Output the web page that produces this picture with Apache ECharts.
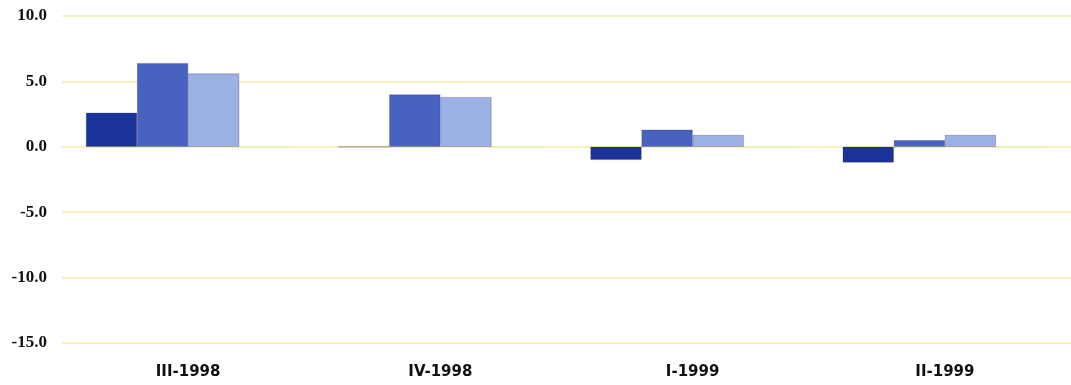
<!DOCTYPE html>
<html><head><meta charset="utf-8">
<script src="https://cdn.jsdelivr.net/npm/echarts@6/dist/echarts.min.js"></script>
<style>html,body{margin:0;padding:0;background:#fff}#c{width:1071px;height:385px}</style>
</head><body><div id="c"></div>
<script>
const categories = ["III-1998", "IV-1998", "I-1999", "II-1999"];
const series1 = [2.6, 0.0, -1.0, -1.2];
const series2 = [6.4, 4.0, 1.3, 0.5];
const series3 = [5.6, 3.8, 0.9, 0.9];
const series4 = [0.0, 0.0, 0.0, 0.0];
const yTicks = [-15, -10, -5, 0, 5, 10];

const colors = ["#19339a", "#4862c2", "#9cb1e4", "#e8ecb0"];
const chart = echarts.init(document.getElementById('c'), null, {renderer: 'canvas'});
const mk = (name, data, i) => ({
  name, type: 'bar', data, barGap: '0%', barCategoryGap: '19%',
  itemStyle: {color: colors[i], borderColor: i < 3 ? 'rgba(60,30,80,0.45)' : colors[i], borderWidth: 0.6},
  animation: false
});
chart.setOption({
  animation: false,
  grid: {left: 62, right: 0, top: 16, bottom: 42, containLabel: false},
  xAxis: {
    type: 'category', data: categories,
    axisLine: {show: false}, axisTick: {show: false},
    position: 'bottom',
    axisLabel: {color: '#111', fontFamily: 'DejaVu Sans', fontWeight: 'bold', fontSize: 15, margin: 22}
  },
  yAxis: {
    type: 'value', min: yTicks[0], max: yTicks[yTicks.length - 1], interval: 5,
    axisLine: {show: false}, axisTick: {show: false},
    splitLine: {lineStyle: {color: '#f0eea8', width: 1.5}},
    axisLabel: {color: '#111', fontFamily: 'Liberation Serif', fontWeight: 'bold', fontSize: 17, margin: 15,
      formatter: v => v.toFixed(1)}
  },
  series: [mk('s1', series1, 0), mk('s2', series2, 1), mk('s3', series3, 2), mk('s4', series4, 3)]
});
</script></body></html>
